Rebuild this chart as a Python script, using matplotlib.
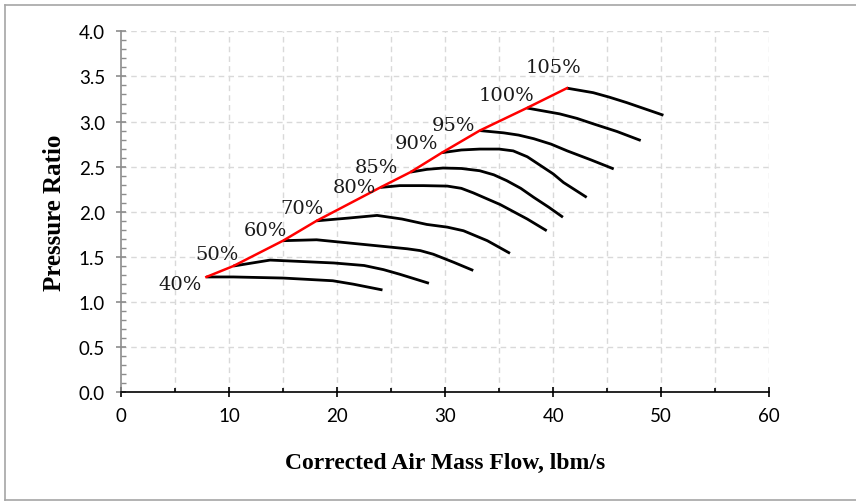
import matplotlib.pyplot as plt
from matplotlib.lines import Line2D
from matplotlib.ticker import MultipleLocator

# compressor map: corrected speed lines (flow lbm/s, pressure ratio)
speeds = ["40%", "50%", "60%", "70%", "80%", "85%", "90%", "95%", "100%", "105%"]

flow_40 = [7.9, 10.4, 15.0, 19.6, 21.5, 24.2]
pr_40 = [1.278, 1.278, 1.266, 1.236, 1.198, 1.134]
flow_50 = [10.4, 13.8, 19.7, 22.5, 24.3, 25.8, 28.5]
pr_50 = [1.399, 1.465, 1.433, 1.405, 1.359, 1.308, 1.208]
flow_60 = [15.0, 18.1, 24.0, 26.5, 27.7, 28.9, 30.8, 32.6]
pr_60 = [1.68, 1.69, 1.62, 1.59, 1.57, 1.53, 1.44, 1.35]
flow_70 = [18.1, 21.0, 23.7, 26.0, 28.3, 30.2, 31.7, 33.9, 36.0]
pr_70 = [1.90, 1.93, 1.96, 1.92, 1.86, 1.83, 1.79, 1.68, 1.54]
flow_80 = [24.0, 25.8, 28.0, 30.2, 31.5, 32.6, 35.1, 37.6, 39.4]
pr_80 = [2.27, 2.29, 2.29, 2.285, 2.26, 2.21, 2.08, 1.92, 1.79]
flow_85 = [26.8, 28.3, 29.8, 31.5, 33.2, 34.5, 35.7, 37.0, 38.2, 39.6, 40.9]
pr_85 = [2.44, 2.47, 2.485, 2.48, 2.455, 2.41, 2.345, 2.26, 2.16, 2.05, 1.94]
flow_90 = [29.7, 31.5, 33.2, 35.0, 36.3, 37.6, 38.8, 40.0, 40.95, 43.1]
pr_90 = [2.655, 2.685, 2.695, 2.695, 2.675, 2.61, 2.515, 2.42, 2.325, 2.16]
flow_95 = [33.2, 35.4, 36.8, 38.2, 39.8, 41.3, 43.5, 45.6]
pr_95 = [2.90, 2.875, 2.85, 2.81, 2.75, 2.675, 2.575, 2.475]
flow_100 = [37.56, 40.6, 42.2, 43.7, 45.9, 48.1]
pr_100 = [3.15, 3.085, 3.035, 2.975, 2.89, 2.79]
flow_105 = [41.27, 43.7, 45.2, 46.8, 48.5, 50.2]
pr_105 = [3.37, 3.32, 3.27, 3.21, 3.14, 3.07]

speed_flows = [flow_40, flow_50, flow_60, flow_70, flow_80, flow_85, flow_90, flow_95, flow_100, flow_105]
speed_prs = [pr_40, pr_50, pr_60, pr_70, pr_80, pr_85, pr_90, pr_95, pr_100, pr_105]

# where the speed labels sit (data coords)
label_x = [5.46, 8.86, 13.4, 16.75, 21.56, 23.6, 27.37, 30.75, 35.7, 40.0]
label_y = [1.20, 1.53, 1.80, 2.04, 2.28, 2.50, 2.76, 2.96, 3.29, 3.60]

fig = plt.figure(figsize=(8.56, 5.02), dpi=100)
ax = fig.add_axes([121 / 856, 1 - 393.3 / 502, (769.3 - 121) / 856, (393.3 - 32.3) / 502])

# outer chart border
for xs, ys in [([4.5 / 856, 1.0], [1 - 5.5 / 502] * 2),
               ([4.5 / 856] * 2, [1 - 5.5 / 502, 1 - 500.5 / 502]),
               ([4.5 / 856, 1.0], [1 - 500.5 / 502] * 2)]:
    fig.add_artist(Line2D(xs, ys, color="#a6a6a6", lw=1.2, transform=fig.transFigure))

ax.set_xlim(0, 60)
ax.set_ylim(0, 4.0)
ax.xaxis.set_major_locator(MultipleLocator(10))
ax.xaxis.set_minor_locator(MultipleLocator(5))
ax.yaxis.set_minor_locator(MultipleLocator(0.1))
ax.set_yticks([i * 0.5 for i in range(9)])
ax.set_yticklabels([f"{i * 0.5:.1f}" for i in range(9)])

# dashed grid at 5 / 0.5
for gx in range(5, 61, 5):
    ax.axvline(gx, color="#d9d9d9", lw=1.0, ls=(0, (4, 3)), zorder=0)
for i in range(1, 9):
    ax.axhline(i * 0.5, color="#d9d9d9", lw=1.0, ls=(0, (4, 3)), zorder=0)

for s in ["top", "right"]:
    ax.spines[s].set_visible(False)
ax.spines["bottom"].set_color("black")
ax.spines["left"].set_color("#8c8c8c")
ax.spines["bottom"].set_linewidth(1.2)
ax.spines["left"].set_linewidth(1.2)

ax.tick_params(axis="x", which="major", direction="inout", length=7, width=1.2, color="black",
               labelsize=13.5, pad=7)
ax.tick_params(axis="x", which="minor", direction="in", length=3, width=1.2, color="black")
ax.tick_params(axis="y", which="major", direction="inout", length=7, width=1.2, color="#8c8c8c",
               labelsize=13.5, pad=8)
ax.tick_params(axis="y", which="minor", direction="in", length=3.5, width=1.0, color="#8c8c8c")
for lab in ax.get_xticklabels() + ax.get_yticklabels():
    lab.set_fontfamily("Lato")

# speed lines
for fl, pr in zip(speed_flows, speed_prs):
    ax.plot(fl, pr, color="black", lw=2.0, solid_capstyle="butt", zorder=3)

# surge line through the first point of every speed line
surge_x = [fl[0] for fl in speed_flows]
surge_y = [pr[0] for pr in speed_prs]
ax.plot(surge_x, surge_y, color="#ff0000", lw=1.8, zorder=4)

for name, lx, ly in zip(speeds, label_x, label_y):
    ax.text(lx, ly, name, ha="center", va="center", fontsize=14, family="DejaVu Serif",
            color="#1a1a1a", zorder=5)

ax.set_xlabel("Corrected Air Mass Flow, lbm/s", family="Liberation Serif", fontweight="bold",
              fontsize=17)
ax.set_ylabel("Pressure Ratio", family="Liberation Serif", fontweight="bold", fontsize=18)
ax.xaxis.set_label_coords(0.5, -0.165)
ax.yaxis.set_label_coords(-0.085, 0.5)

fig.savefig("out.png", dpi=100)
